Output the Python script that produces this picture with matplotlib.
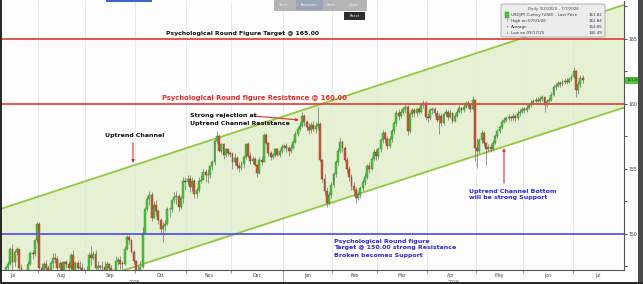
import numpy as np
import pandas as pd
import matplotlib
matplotlib.use("Agg")
import matplotlib.pyplot as plt
import matplotlib.transforms as mtransforms
from matplotlib.patches import Rectangle, FancyBboxPatch, FancyArrowPatch

# USDJPY daily candles: (close, high, low); open = previous close
first_open = 146.30
jul25 = [(146.27, 146.9, 145.8), (147.43, 147.5, 146.0), (147.72, 147.9, 147.0), (148.86, 149.0, 147.6),
         (147.87, 149.2, 147.2), (148.60, 148.8, 147.5), (148.81, 149.0, 148.4), (147.38, 148.8, 147.2),
         (146.95, 147.7, 146.9), (146.54, 147.1, 146.3), (146.94, 147.1, 146.2), (147.70, 147.9, 146.8),
         (148.52, 148.7, 147.6), (148.47, 148.8, 148.1), (149.50, 149.5, 148.3), (150.75, 150.9, 149.3)]
aug25 = [(147.40, 150.9, 147.3), (147.08, 147.8, 146.6), (147.68, 147.9, 146.9), (147.40, 148.0, 147.0),
         (147.10, 147.6, 146.6), (147.74, 147.9, 146.9), (148.13, 148.5, 147.4), (148.10, 148.5, 147.8),
         (147.35, 148.3, 147.0), (147.75, 147.9, 146.5), (147.20, 147.9, 147.1), (147.85, 147.9, 147.0),
         (147.68, 148.0, 147.4), (147.35, 147.9, 146.9), (148.36, 148.5, 147.1), (146.93, 148.8, 146.8),
         (147.75, 147.9, 146.9), (147.42, 148.0, 147.2), (147.42, 147.9, 146.9), (146.97, 147.8, 146.8),
         (147.05, 147.4, 146.7)]
sep25 = [(147.15, 147.5, 146.7), (148.40, 148.6, 147.1), (148.12, 149.1, 147.6), (148.48, 148.7, 148.0),
         (147.40, 148.8, 147.1), (147.52, 147.9, 147.0), (147.45, 147.6, 146.5), (147.43, 147.9, 146.8),
         (147.20, 147.9, 146.9), (147.68, 147.9, 147.1), (147.40, 147.8, 147.2), (146.88, 147.6, 146.6),
         (146.95, 147.3, 145.5), (147.96, 148.3, 146.8), (147.97, 148.2, 147.6), (147.72, 148.3, 147.3),
         (147.67, 147.9, 147.3), (148.88, 149.1, 147.6), (149.80, 149.9, 148.8), (149.50, 149.9, 149.2),
         (148.60, 149.6, 148.5), (147.90, 148.8, 147.7)]
oct25 = [(147.10, 148.0, 146.9), (147.25, 147.6, 146.6), (147.45, 147.9, 147.0), (150.10, 150.5, 147.4),
         (151.95, 152.1, 150.0), (152.70, 152.9, 151.8), (153.00, 153.3, 152.2), (151.20, 153.2, 151.0),
         (152.25, 152.5, 151.2), (151.80, 152.6, 151.4), (151.05, 151.9, 150.8), (150.40, 151.2, 150.1),
         (150.60, 150.9, 149.4), (150.80, 151.1, 150.2), (151.90, 152.1, 150.7), (151.95, 152.1, 151.3),
         (152.60, 152.7, 151.7), (152.85, 153.2, 152.4), (152.90, 153.3, 152.3), (152.05, 153.1, 151.8),
         (152.75, 152.9, 151.9), (154.10, 154.4, 152.4), (154.00, 154.4, 153.4)]
nov25 = [(154.20, 154.5, 153.8), (153.60, 154.5, 153.2), (154.10, 154.4, 153.3), (153.05, 154.2, 152.8),
         (153.40, 153.6, 152.8), (154.10, 154.4, 153.2), (154.15, 154.5, 153.9), (154.80, 155.0, 154.2),
         (154.50, 155.0, 154.0), (154.55, 155.0, 153.9), (155.20, 155.3, 154.3), (155.50, 155.7, 154.9),
         (157.15, 157.3, 155.3), (157.50, 157.9, 157.0), (156.40, 157.7, 156.3), (156.90, 157.0, 156.2),
         (156.10, 157.0, 155.8), (156.50, 156.6, 155.9), (156.25, 156.5, 156.0), (156.15, 156.4, 155.9)]
dec25 = [(155.50, 156.3, 155.0), (155.85, 156.2, 155.3), (155.20, 156.0, 155.0), (155.10, 155.5, 154.8),
         (155.35, 155.6, 154.9), (155.90, 156.1, 155.1), (156.90, 157.0, 155.8), (156.00, 157.1, 155.9),
         (155.60, 156.3, 155.4), (155.80, 156.0, 155.4), (155.30, 155.9, 155.2), (154.70, 155.4, 154.4),
         (155.70, 155.9, 154.6), (155.55, 156.0, 155.3), (157.65, 157.8, 155.5), (157.00, 157.8, 156.9),
         (156.20, 157.1, 156.0), (155.95, 156.4, 155.7), (156.05, 156.2, 155.8), (156.50, 156.6, 155.9),
         (156.10, 156.6, 156.0), (156.40, 156.5, 155.9), (156.70, 156.9, 156.2)]
jan26 = [(156.75, 156.9, 156.5), (156.60, 157.0, 156.3), (156.40, 156.8, 156.0), (156.65, 156.9, 156.2),
         (157.10, 157.3, 156.5), (157.70, 157.9, 157.0), (158.10, 158.3, 157.5), (158.30, 158.6, 157.9),
         (159.10, 159.4, 158.2), (158.60, 159.2, 158.3), (158.20, 158.8, 157.9), (158.00, 158.5, 157.7),
         (158.40, 158.6, 157.8), (158.10, 158.7, 157.9), (158.30, 158.6, 157.8), (158.45, 159.8, 158.0),
         (155.70, 158.6, 155.5), (154.20, 155.8, 154.0), (153.30, 154.6, 153.0), (152.40, 153.6, 152.1),
         (153.00, 153.2, 152.2), (153.80, 154.0, 152.8)]
feb26 = [(154.60, 154.8, 153.6), (155.50, 155.7, 154.4), (156.40, 156.6, 155.3), (157.10, 157.4, 156.2),
         (156.60, 157.2, 156.3), (155.70, 156.8, 155.5), (155.00, 155.9, 154.7), (154.40, 155.2, 154.1),
         (153.70, 154.6, 153.4), (153.40, 154.0, 153.0), (152.80, 153.6, 152.4), (153.00, 153.3, 152.6),
         (153.50, 153.7, 152.8), (154.00, 154.2, 153.3), (154.40, 154.7, 153.8), (155.20, 155.4, 154.2),
         (155.00, 155.5, 154.7), (155.80, 156.0, 154.9), (156.30, 156.5, 155.6), (156.00, 156.5, 155.7)]
mar26 = [(156.50, 156.7, 155.8), (157.20, 157.4, 156.3), (157.80, 158.0, 157.0), (157.30, 157.9, 157.0),
         (156.80, 157.5, 156.5), (157.30, 157.5, 156.6), (157.90, 158.1, 157.1), (158.50, 158.7, 157.7),
         (159.30, 159.5, 158.3), (159.10, 159.6, 158.8), (159.40, 159.6, 158.9), (159.60, 159.8, 159.2),
         (159.80, 160.0, 159.3), (157.90, 159.9, 157.6), (159.20, 159.4, 157.8), (159.50, 159.7, 159.0),
         (159.30, 159.7, 159.0), (159.60, 159.8, 159.1), (159.40, 159.8, 159.2), (159.90, 160.1, 159.3),
         (160.10, 160.3, 159.7), (159.00, 160.2, 158.8)]
apr26 = [(158.90, 159.3, 158.6), (159.50, 159.7, 158.8), (159.60, 159.8, 159.2), (159.30, 159.8, 159.1),
         (158.80, 159.5, 158.6), (159.10, 159.3, 157.7), (158.50, 159.3, 158.3), (159.20, 159.4, 158.4),
         (159.40, 159.6, 159.0), (159.00, 159.5, 158.8), (159.30, 159.5, 158.9), (158.70, 159.4, 158.5),
         (159.10, 159.3, 158.6), (159.40, 159.6, 159.0), (159.70, 159.9, 159.3), (159.50, 159.8, 159.3),
         (159.80, 160.0, 159.4), (160.10, 160.2, 159.7), (159.90, 160.2, 159.7), (159.60, 160.0, 159.4),
         (160.30, 160.6, 159.5), (156.60, 160.4, 155.6)]
may26 = [(156.40, 157.4, 155.1), (157.20, 157.4, 156.2), (157.80, 158.0, 157.0), (157.00, 157.9, 156.8),
         (156.50, 157.1, 155.3), (156.70, 156.9, 156.3), (156.50, 156.9, 156.3), (157.00, 157.2, 156.4),
         (157.50, 157.7, 156.9), (157.90, 158.1, 157.4), (158.20, 158.4, 157.8), (158.60, 158.8, 158.1),
         (158.80, 159.0, 158.5), (158.90, 159.1, 158.6), (159.00, 159.2, 158.7), (158.90, 159.1, 158.7),
         (159.10, 159.3, 158.8), (158.90, 159.2, 158.7), (159.30, 159.5, 158.8), (159.40, 159.6, 159.1),
         (159.60, 159.8, 159.3)]
jun26 = [(159.50, 159.8, 159.3), (159.70, 159.9, 159.4), (159.90, 160.1, 159.6), (160.10, 160.3, 159.8),
         (160.20, 160.4, 159.9), (160.30, 160.5, 160.0), (160.20, 160.5, 160.0), (160.40, 160.6, 160.1),
         (160.50, 160.7, 160.2), (159.90, 160.6, 159.4), (160.20, 160.4, 159.8), (160.30, 160.5, 160.0),
         (160.70, 160.9, 160.2), (161.30, 161.5, 160.6), (161.40, 161.6, 161.1), (161.60, 161.8, 161.3),
         (161.50, 161.8, 161.3), (161.70, 161.9, 161.4), (161.80, 162.0, 161.5), (161.70, 162.0, 161.5),
         (161.90, 162.1, 161.6), (162.10, 162.3, 161.8)]
jul26 = [(162.50, 162.84, 162.0), (161.10, 162.6, 160.5), (161.50, 161.8, 160.8), (162.00, 162.2, 161.3),
         (161.82, 162.2, 161.6)]
months = [jul25, aug25, sep25, oct25, nov25, dec25, jan26, feb26, mar26, apr26, may26, jun26, jul26]
dates = pd.bdate_range("2025-07-10", "2026-07-07")

# reference levels and channel anchors (candle index, price)
level_target = 165.0
level_resist = 160.0
level_support = 150.0
chan_x = [0, 276]
chan_upper = [152.0, 167.6]
chan_lower = [144.2, 159.7]

legend_rows = [("USDJPY Curncy (USD) - Last Price", "161.82"), ("High on 07/01/26", "162.84"),
               ("Average", "154.85"), ("Low on 09/17/25", "145.49")]

W, H = 643, 284
fig = plt.figure(figsize=(W / 100, H / 100), dpi=100)
fig.patch.set_facecolor("white")

def fx(x):
    return x / W

def fy(y):
    return 1 - y / H

ax = fig.add_axes([fx(2), fy(270), fx(624) - fx(2), fy(1) - fy(270)])
ax.set_facecolor("#fdfdfd")
xmin, xmax = -0.67, 276.4
ax.set_xlim(xmin, xmax)
ax.set_ylim(147.23, 167.92)

rows = [r for m in months for r in m]
close = np.array([r[0] for r in rows])
high = np.array([r[1] for r in rows])
low = np.array([r[2] for r in rows])
opn = np.concatenate([[first_open], close[:-1]])
idx = np.arange(len(close))

# channel
xs = np.array([xmin - 2, xmax + 2])
su = (chan_upper[1] - chan_upper[0]) / (chan_x[1] - chan_x[0])
sl = (chan_lower[1] - chan_lower[0]) / (chan_x[1] - chan_x[0])
up_line = chan_upper[0] + su * (xs - chan_x[0])
lo_line = chan_lower[0] + sl * (xs - chan_x[0])
ax.fill_between(xs, lo_line, up_line, color="#e6f1d3", zorder=0.5, lw=0)
ax.plot(xs, up_line, color="#92c83e", lw=1.3, zorder=2)
ax.plot(xs, lo_line, color="#92c83e", lw=1.3, zorder=2)

# month boundaries from the trading calendar
d0 = np.datetime64(dates[0].date())
mstarts = pd.date_range("2025-07-01", "2026-08-01", freq="MS")
mpos = [np.busday_count(d0, np.datetime64(m.date())) - 0.5 for m in mstarts]
for p in mpos[1:-1]:
    ax.axvline(p, color="#e4e4e4", lw=0.6, zorder=0.6)

# candles
ax.vlines(idx, low, high, color="#7a7a7a", lw=0.55, zorder=3)
body = np.maximum(np.abs(close - opn), 0.06)
bot = np.minimum(close, opn)
up = close >= opn
ax.bar(idx[up], body[up], bottom=bot[up], width=0.85, color="#4cc83a", edgecolor="#2e8a26", lw=0.3, zorder=3.5)
ax.bar(idx[~up], body[~up], bottom=bot[~up], width=0.85, color="#c8583a", edgecolor="#8a3a22", lw=0.3, zorder=3.5)

# horizontal levels
ax.axhline(level_target, color="#e04a3c", lw=1.3, zorder=4)
ax.axhline(level_resist, color="#e04a3c", lw=1.3, zorder=4)
ax.axhline(level_support, color="#5555ee", lw=1.3, zorder=4)

# axes styling
for s in ["top", "left"]:
    ax.spines[s].set_visible(False)
for s in ["right", "bottom"]:
    ax.spines[s].set_color("#555555")
    ax.spines[s].set_linewidth(0.8)
ax.yaxis.tick_right()
ax.set_yticks([150, 155, 160, 165])
ax.set_yticks(np.arange(147.5, 168, 2.5), minor=True)
ax.tick_params(axis="y", which="both", direction="out", length=2, width=0.6, colors="#333333",
               labelsize=3.3, pad=1.5)
ax.set_xticks(mpos[1:-1])
ax.set_xticklabels([])
ax.tick_params(axis="x", direction="out", length=2.5, width=0.5, colors="#666666")

trans = mtransforms.blended_transform_factory(ax.transData, ax.transAxes)
for a, b, m in zip(mpos[:-1], mpos[1:], mstarts[:-1]):
    ax.text((a + b) / 2, -0.012, m.strftime("%b"), transform=trans, ha="center", va="top",
            fontsize=3.3, color="#444444", clip_on=False)
jan_pos = mpos[6]
ax.text((mpos[0] + jan_pos) / 2, -0.036, "2025", transform=trans, ha="center", va="top",
        fontsize=3.3, color="#444444", clip_on=False)
ax.text((jan_pos + mpos[-1]) / 2, -0.036, "2026", transform=trans, ha="center", va="top",
        fontsize=3.3, color="#444444", clip_on=False)
ax.plot([jan_pos, jan_pos], [0, -0.06], transform=trans, color="#888888", lw=0.5, clip_on=False)

# last price tag
ytrans = mtransforms.blended_transform_factory(ax.transAxes, ax.transData)
ax.text(1.004, close[-1], "%.2f" % close[-1], transform=ytrans, ha="left", va="center", fontsize=3.0,
        color="#1a3a10", clip_on=False,
        bbox=dict(boxstyle="square,pad=0.25", fc="#4fc63a", ec="#2e8a26", lw=0.4))

# annotations
bold = dict(fontweight="bold", family="DejaVu Sans")
fig.text(fx(166), fy(34), "Psychological Round Figure Target @ 165.00", fontsize=4.4, color="#111111",
         va="center", ha="left", **bold)
fig.text(fx(162), fy(98), "Psychological Round figure Resistance @ 160.00", fontsize=4.85, color="#e52b2b",
         va="center", ha="left", **bold)
fig.text(fx(105), fy(136), "Uptrend Channel", fontsize=4.5, color="#111111", va="center", ha="left", **bold)
fig.text(fx(190), fy(116), "Strong rejection at", fontsize=4.5, color="#111111", va="center", ha="left", **bold)
fig.text(fx(190), fy(124), "Uptrend Channel Resistance", fontsize=4.5, color="#111111", va="center",
         ha="left", **bold)
fig.text(fx(469), fy(191), "Uptrend Channel Bottom", fontsize=4.5, color="#2b2bd6", va="center", ha="left", **bold)
fig.text(fx(469), fy(198), "will be strong Support", fontsize=4.5, color="#2b2bd6", va="center", ha="left", **bold)
for k, line in enumerate(["Psychological Round figure", "Target @ 150.00 strong Resistance",
                          "Broken becomes Support"]):
    fig.text(fx(334), fy(241 + 7 * k), line, fontsize=4.5, color="#2b2bd6", va="center", ha="left", **bold)

arrow = dict(arrowstyle="-|>", color="#e03030", lw=0.8, mutation_scale=4, shrinkA=0, shrinkB=0)
fig.add_artist(FancyArrowPatch((fx(133), fy(143)), (fx(133), fy(163)), transform=fig.transFigure, **arrow))
fig.add_artist(FancyArrowPatch((fx(254), fy(116)), (fx(299), fy(120)), transform=fig.transFigure, **arrow))
fig.add_artist(FancyArrowPatch((fx(504), fy(183)), (fx(504), fy(148)), transform=fig.transFigure, **arrow))

# legend box
fig.add_artist(FancyBboxPatch((fx(501), fy(37)), fx(605) - fx(501), fy(4) - fy(37),
                              boxstyle="round,pad=0,rounding_size=0.004", transform=fig.transFigure,
                              fc="#ececec", ec="#a8a8a8", lw=0.6, zorder=5))
fig.text(fx(553), fy(9), "Daily 3/2/2020 - 7/7/2026", fontsize=2.9, color="#444444", ha="center",
         va="center", zorder=6)
marks = ["", "\u2191", "+", "\u2193"]
for k, (lab, val) in enumerate(legend_rows):
    yy = fy(15 + 6 * k)
    if k == 0:
        fig.add_artist(Rectangle((fx(505), yy - 0.009), fx(3.5), 0.018, transform=fig.transFigure,
                                 fc="#4fc63a", ec="#2e8a26", lw=0.3, zorder=6))
    else:
        fig.text(fx(507), yy, marks[k], fontsize=2.8, color="#555555", ha="center", va="center", zorder=6)
    fig.text(fx(511), yy, lab, fontsize=2.9, color="#333333", ha="left", va="center", zorder=6)
    fig.text(fx(602), yy, val, fontsize=2.9, color="#333333", ha="right", va="center", zorder=6)

# toolbar overlay
fig.add_artist(Rectangle((fx(274), fy(10)), fx(92), fy(0) - fy(10), transform=fig.transFigure,
                         fc="#b4b4b4", ec="#9a9a9a", lw=0.4, zorder=6))
fig.add_artist(Rectangle((fx(296), fy(10)), fx(27), fy(0) - fy(10), transform=fig.transFigure,
                         fc="#9aa6b8", ec="none", zorder=6))
for xx, lab in [(283, "Track"), (309, "Annotate"), (331, "News"), (354, "Zoom")]:
    fig.text(fx(xx), fy(5), lab, fontsize=2.6, color="#eeeeee", ha="center", va="center", zorder=7)
fig.add_artist(Rectangle((fx(344), fy(20)), fx(21), fy(12) - fy(20), transform=fig.transFigure,
                         fc="#2e2e2e", ec="none", zorder=6))
fig.text(fx(355), fy(16), "Reset", fontsize=2.6, color="#f0f0f0", ha="center", va="center", zorder=7)

# frame strips
fig.add_artist(Rectangle((0, 0), fx(2), 1, transform=fig.transFigure, fc="#2a2a2a", ec="none"))
fig.add_artist(Rectangle((fx(638), 0), fx(5), 1, transform=fig.transFigure, fc="#4a4a4a", ec="none"))
fig.add_artist(Rectangle((0, fy(284)), 1, fy(282) - fy(284), transform=fig.transFigure, fc="#2a2a2a", ec="none"))
fig.add_artist(Rectangle((fx(106), fy(2)), fx(46), fy(0) - fy(2), transform=fig.transFigure,
                         fc="#3a66c8", ec="none"))

fig.savefig("out.png", dpi=100)
